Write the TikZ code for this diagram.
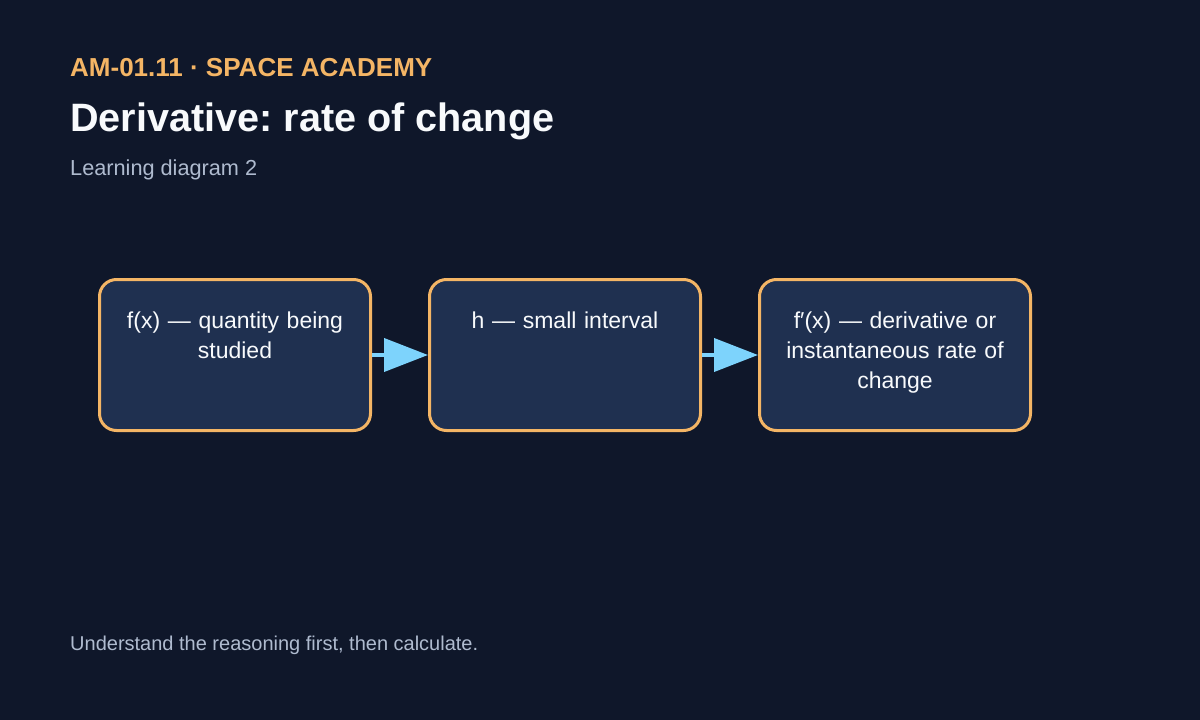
\documentclass[tikz,border=0pt]{standalone}
\usepackage{fontspec}
\setmainfont{Liberation Sans}
\usetikzlibrary{arrows.meta,calc}
\frenchspacing

\definecolor{bgnavy}{HTML}{0F172A}
\definecolor{boxnavy}{HTML}{1F3050}
\definecolor{amber}{HTML}{F4B565}
\definecolor{skyblue}{HTML}{7DD3FC}
\definecolor{slate}{HTML}{AFBBCF}
\definecolor{snow}{HTML}{F8FAFC}

\tikzset{
  stepbox/.style={draw=amber, fill=boxnavy, line width=3pt, rounded corners=17pt,
    minimum width=271pt, minimum height=151pt},
  boxtext/.style={text=snow, text width=250pt, align=center, anchor=base,
    font=\fontsize{23}{30}\selectfont},
  headline/.style={anchor=base west, inner sep=0pt},
  flow/.style={draw=skyblue, line width=4pt, -{Triangle[length=44pt, width=33pt]}}
}

\begin{document}
\begin{tikzpicture}[x=1pt,y=-1pt]
	\fill[bgnavy] (0,0) rectangle (1200,720);
	\useasboundingbox (0,0) rectangle (1200,720);
	% header
	\node[headline, text=amber, font=\fontsize{26}{30}\selectfont\bfseries] (code) at (70,76) {AM-01.11 · SPACE ACADEMY};
	\node[headline, text=snow, font=\fontsize{39.6}{46}\selectfont\bfseries] (title) at (70,131) {Derivative: rate of change};
	\node[headline, text=slate, font=\fontsize{21.7}{26}\selectfont] (sub) at (70,175) {Learning diagram 2};
	% boxes
	\node[stepbox] (f) at (235,355) {};
	\node[stepbox] (h) at (565,355) {};
	\node[stepbox] (fp) at (895,355) {};
	\node[boxtext] (ftext) at ($(f.north)+(0,50)$) {f(x) — quantity being\\studied};
	\node[boxtext] (htext) at ($(h.north)+(0,50)$) {h — small interval};
	\node[boxtext] (fptext) at ($(fp.north)+(0,50)$) {f′(x) — derivative or\\instantaneous rate of\\change};
	\draw[flow] (f.east) -- (h.west);
	\draw[flow] (h.east) -- (fp.west);
	% footer
	\node[headline, text=slate, font=\fontsize{20}{24}\selectfont] (foot) at (70,650) {Understand the reasoning first, then calculate.};
\end{tikzpicture}
\end{document}
